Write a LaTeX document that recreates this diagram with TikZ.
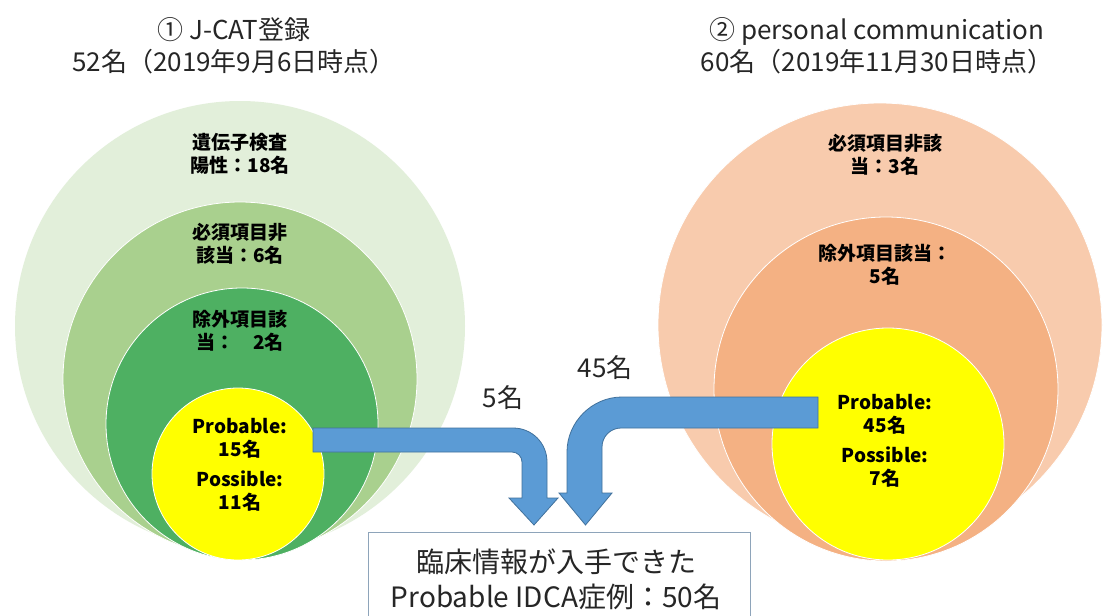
\documentclass[tikz,border=0pt]{standalone}
\usepackage{fontspec}
\setmainfont{Noto Sans CJK JP}
\definecolor{gA}{HTML}{E2EFDA}
\definecolor{gB}{HTML}{A9D08E}
\definecolor{gC}{HTML}{4EB062}
\definecolor{oA}{HTML}{F8CBAD}
\definecolor{oB}{HTML}{F4B183}
\definecolor{yel}{HTML}{FFFF00}
\definecolor{arrowfill}{HTML}{5B9BD5}
\definecolor{arrowline}{HTML}{41719C}
\definecolor{boxline}{HTML}{8EA4BA}
\definecolor{txt}{HTML}{262626}
\tikzset{
  ring/.style={draw=white, line width=0.8pt},
  ttl/.style={align=center, text=txt, font=\fontsize{26}{32}\selectfont, inner sep=0pt},
  lab/.style={align=center, text=black, font=\bfseries\fontsize{19}{23}\selectfont, inner sep=0pt},
  cnt/.style={text=txt, font=\fontsize{26}{30}\selectfont, inner sep=0pt},
  boxtxt/.style={align=center, text=txt, font=\fontsize{28}{35}\selectfont, inner sep=0pt},
  blockarrow/.style={fill=arrowfill, draw=arrowline, line width=0.8pt, line join=miter},
  resultbox/.style={draw=boxline, fill=white, line width=1pt}
}
\begin{document}
\begin{tikzpicture}[x=1pt,y=-1pt]
\useasboundingbox (0,0) rectangle (1104,616);
\clip (0,0) rectangle (1104,616);
\fill[white] (0,0) rectangle (1104,616);

% ---- left nested circles
\fill[gA] (240,326) circle[radius=225];
\draw[ring, fill=gB] (240,379) circle[radius=177];
\draw[ring, fill=gC] (242,424) circle[radius=136];
\draw[ring, fill=yel] (238,474) circle[radius=86];

% ---- right nested circles
\draw[ring, fill=oA] (880,325) circle[radius=222];
\draw[ring, fill=oB] (886,389) circle[radius=172];
\draw[ring, fill=yel] (888,444) circle[radius=116];

% ---- titles
\node[ttl] (t1) at (234,46) {① J-CAT登録\\52名（2019年9月6日時点）};
\node[ttl] (t2) at (877,46) {② personal communication\\60名（2019年11月30日時点）};

% ---- left labels
\node[lab] (l1) at (240,153.5) {遺伝子検査\\陽性：18名};
\node[lab] (l2) at (240,243.5) {必須項目非\\該当：6名};
\node[lab] (l3) at (240,330.5) {除外項目該\\当：　2名};
\node[lab] (l4) at (240,465) {Probable:\\15名\\[7pt]Possible:\\11名};

% ---- right labels
\node[lab] (r1) at (885,155) {必須項目非該\\当：3名};
\node[lab] (r2) at (885,265) {除外項目該当：\\5名};
\node[lab] (r3) at (885,441) {Probable:\\45名\\[7pt]Possible:\\7名};

% ---- block arrows
\draw[blockarrow] (313,428) -- (513,428) .. controls (532,428) and (547,443) .. (547,462)
  -- (547,498) -- (558,498) -- (534,525) -- (509,498) -- (522,498) -- (522,462)
  .. controls (522,456.5) and (517.5,452) .. (512,452) -- (313,452) -- cycle;
\draw[blockarrow] (818,397) -- (622,397) .. controls (592,397) and (567,422) .. (567,452)
  -- (567,493) -- (559,493) -- (585.5,525) -- (612,493) -- (602,493) -- (602,447)
  .. controls (602,436.5) and (610.5,428) .. (621,428) -- (818,428) -- cycle;

\node[cnt] (c1) at (503,398) {5名};
\node[cnt] (c2) at (605,368) {45名};

% ---- result box
\draw[resultbox] (368,532) rectangle (750,630);
\node[boxtxt] (res) at (556,579) {臨床情報が入手できた\\Probable IDCA症例：50名};
\end{tikzpicture}
\end{document}
